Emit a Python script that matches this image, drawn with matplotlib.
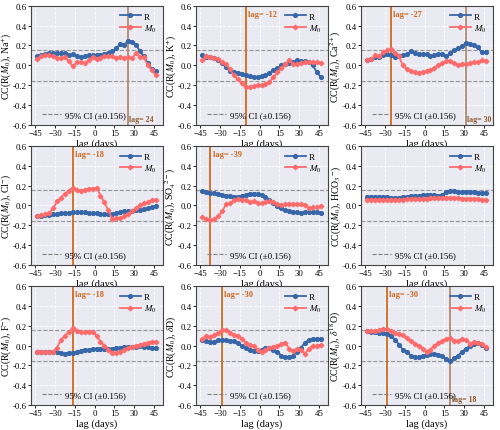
import numpy as np
import matplotlib
matplotlib.use("Agg")
import matplotlib.pyplot as plt
from matplotlib.lines import Line2D

plt.rcParams["font.family"] = ["Liberation Serif", "DejaVu Serif"]
plt.rcParams["mathtext.fontset"] = "stix"

## Data -------------------

lags = np.arange(-45, 46, 3)

ylabels = [r"CC(R($M_0$), Na$^{+}$)", r"CC(R($M_0$), K$^{+}$)", r"CC(R($M_0$), Ca$^{2+}$)",
           r"CC(R($M_0$), Cl$^{-}$)", r"CC(R($M_0$), SO$_4$$^{2-}$)", r"CC(R($M_0$), HCO$_3$$^{-}$)",
           r"CC(R($M_0$), F$^{-}$)", r"CC(R($M_0$), $\delta$D)", r"CC(R($M_0$), $\delta^{18}$O)"]

r_na = [0.09, 0.10, 0.11, 0.12, 0.12, 0.12, 0.12, 0.12, 0.10, 0.11, 0.09, 0.08, 0.09, 0.10, 0.10, 0.10,
        0.10, 0.11, 0.12, 0.14, 0.17, 0.22, 0.21, 0.245, 0.24, 0.21, 0.14, 0.09, 0.02, -0.04, -0.06]
m_na = [0.06, 0.09, 0.10, 0.10, 0.09, 0.07, 0.07, 0.08, 0.04, -0.01, 0.03, 0.03, 0.02, 0.05, 0.08, 0.06,
        0.07, 0.09, 0.09, 0.09, 0.07, 0.08, 0.07, 0.08, 0.07, 0.12, 0.08, 0.08, 0.00, -0.05, -0.10]

r_k = [0.10, 0.08, 0.08, 0.07, 0.05, 0.02, -0.02, -0.06, -0.07, -0.08, -0.09, -0.10, -0.11, -0.12, -0.12, -0.11,
       -0.10, -0.08, -0.05, -0.03, 0.00, 0.01, 0.02, 0.03, 0.05, 0.04, 0.04, 0.03, 0.00, -0.07, -0.12]
m_k = [0.05, 0.09, 0.08, 0.07, 0.06, 0.03, 0.01, -0.04, -0.10, -0.14, -0.18, -0.22, -0.22, -0.21, -0.20, -0.20,
       -0.19, -0.17, -0.12, -0.07, -0.03, 0.01, 0.05, 0.01, 0.01, 0.02, 0.03, 0.03, 0.03, 0.03, 0.02]

r_ca = [0.05, 0.06, 0.08, 0.08, 0.10, 0.11, 0.10, 0.08, 0.09, 0.10, 0.11, 0.14, 0.12, 0.11, 0.11, 0.11,
        0.09, 0.10, 0.11, 0.11, 0.09, 0.12, 0.15, 0.17, 0.19, 0.23, 0.22, 0.20, 0.18, 0.13, 0.13]
m_ca = [0.05, 0.06, 0.10, 0.09, 0.13, 0.15, 0.16, 0.12, 0.09, 0.00, -0.04, -0.06, -0.07, -0.08, -0.07, -0.06,
        -0.05, -0.03, 0.00, 0.02, 0.04, 0.04, 0.02, 0.00, 0.01, 0.01, 0.02, 0.03, 0.03, 0.05, 0.04]

r_cl = [-0.11, -0.11, -0.10, -0.10, -0.09, -0.09, -0.08, -0.08, -0.08, -0.07, -0.07, -0.07, -0.07, -0.08, -0.08, -0.08,
        -0.09, -0.09, -0.09, -0.09, -0.08, -0.07, -0.06, -0.06, -0.06, -0.05, -0.05, -0.04, -0.03, -0.02, -0.01]
m_cl = [-0.11, -0.10, -0.09, -0.08, -0.03, 0.04, 0.08, 0.12, 0.15, 0.18, 0.16, 0.15, 0.16, 0.17, 0.17, 0.18,
        0.10, 0.03, -0.05, -0.14, -0.13, -0.13, -0.11, -0.09, -0.06, -0.03, 0.00, 0.02, 0.03, 0.05, 0.05]

r_so4 = [0.15, 0.14, 0.13, 0.13, 0.12, 0.11, 0.10, 0.10, 0.09, 0.09, 0.10, 0.11, 0.12, 0.12, 0.12, 0.11,
         0.09, 0.06, 0.02, -0.01, -0.03, -0.05, -0.06, -0.07, -0.07, -0.08, -0.07, -0.07, -0.07, -0.07, -0.08]
m_so4 = [-0.12, -0.14, -0.15, -0.14, -0.11, -0.06, 0.01, 0.02, 0.05, 0.07, 0.06, 0.05, 0.03, 0.04, 0.02, 0.02,
         0.03, 0.04, 0.03, 0.01, 0.00, 0.01, 0.01, 0.01, 0.01, 0.01, 0.00, -0.03, -0.02, -0.02, -0.01]

r_hco3 = [0.09, 0.09, 0.09, 0.09, 0.09, 0.09, 0.08, 0.08, 0.08, 0.09, 0.09, 0.10, 0.10, 0.10, 0.11, 0.11,
          0.11, 0.11, 0.10, 0.11, 0.14, 0.15, 0.15, 0.14, 0.14, 0.14, 0.14, 0.14, 0.13, 0.13, 0.13]
m_hco3 = [0.06, 0.06, 0.06, 0.06, 0.06, 0.06, 0.06, 0.06, 0.06, 0.06, 0.07, 0.07, 0.07, 0.07, 0.07, 0.07,
          0.08, 0.08, 0.08, 0.08, 0.08, 0.08, 0.08, 0.08, 0.07, 0.07, 0.07, 0.07, 0.07, 0.06, 0.06]

r_f = [-0.06, -0.06, -0.06, -0.06, -0.06, -0.06, -0.07, -0.08, -0.07, -0.07, -0.06, -0.05, -0.04, -0.04, -0.03, -0.03,
       -0.03, -0.03, -0.03, -0.03, -0.02, -0.02, -0.01, -0.01, -0.01, -0.01, 0.00, -0.01, -0.01, -0.02, -0.02]
m_f = [-0.06, -0.06, -0.06, -0.06, -0.06, -0.02, 0.06, 0.10, 0.14, 0.18, 0.15, 0.14, 0.14, 0.14, 0.14, 0.10,
       0.04, 0.00, -0.04, -0.07, -0.07, -0.06, -0.04, -0.02, -0.01, 0.00, 0.01, 0.02, 0.03, 0.04, 0.04]

r_dd = [0.06, 0.05, 0.04, 0.04, 0.06, 0.06, 0.06, 0.05, 0.05, 0.03, 0.00, -0.02, -0.04, -0.05, -0.05, -0.04,
        -0.02, -0.02, -0.04, -0.06, -0.10, -0.12, -0.12, -0.10, -0.06, -0.02, 0.03, 0.06, 0.07, 0.07, 0.07]
m_dd = [0.07, 0.10, 0.09, 0.11, 0.13, 0.16, 0.16, 0.13, 0.11, 0.10, 0.07, 0.03, 0.01, 0.00, -0.04, -0.06,
        -0.04, -0.02, -0.01, 0.00, 0.02, 0.03, -0.03, -0.05, -0.03, -0.04, -0.08, -0.03, 0.00, 0.00, 0.01]

r_d18o = [0.15, 0.14, 0.14, 0.13, 0.13, 0.12, 0.10, 0.06, 0.01, -0.04, -0.06, -0.10, -0.12, -0.12, -0.10, -0.09,
          -0.08, -0.08, -0.09, -0.10, -0.14, -0.16, -0.13, -0.10, -0.06, -0.03, 0.00, 0.02, 0.03, 0.01, -0.02]
m_d18o = [0.15, 0.15, 0.15, 0.16, 0.17, 0.17, 0.15, 0.13, 0.12, 0.11, 0.08, 0.05, 0.02, 0.00, -0.03, -0.06,
          -0.04, 0.00, 0.03, 0.05, 0.07, 0.08, 0.05, 0.05, 0.07, 0.06, 0.02, 0.04, 0.03, 0.02, -0.01]

r_series = [r_na, r_k, r_ca, r_cl, r_so4, r_hco3, r_f, r_dd, r_d18o]
m_series = [m_na, m_k, m_ca, m_cl, m_so4, m_hco3, m_f, m_dd, m_d18o]

# significant lags (None = not significant)
r_best = [24, None, 30, None, None, None, None, None, 18]
m_best = [None, -12, -27, -18, -39, None, -18, -30, -30]

ci = 0.156

## Plotting -------------------

blue = "#3767a8"
red = "#ff6b6b"
c_m = "#d2691e"
c_r = "#b08a70"
shift = 1.5  # lags are drawn shifted half a step

fig, axes = plt.subplots(3, 3, figsize=(5.0, 4.31), dpi=100)
fig.subplots_adjust(left=0.062, right=0.986, top=0.984, bottom=0.058, wspace=0.25, hspace=0.18)

yt = np.arange(-0.6, 0.61, 0.2)

for i, ax in enumerate(axes.flat):
    ax.set_facecolor("#eaeaf2")
    x = lags + shift
    ax.plot(x, r_series[i], "-o", color=blue, lw=1.3, ms=2.7, label="R", zorder=3)
    ax.plot(x, m_series[i], "-D", color=red, lw=1.3, ms=2.3, label=r"$M_0$", zorder=3)
    ax.axhline(ci, color="gray", ls="--", lw=0.8, alpha=0.8)
    ax.axhline(-ci, color="gray", ls="--", lw=0.8, alpha=0.8)

    if m_best[i] is not None:
        ax.axvline(m_best[i] + shift, color=c_m, lw=1.3, zorder=2)
        ax.text(m_best[i] + shift + 1.8, 0.52, "lag= %d" % m_best[i], color=c_m,
                fontsize=6, fontweight="bold", va="center")
    if r_best[i] is not None:
        ax.axvline(r_best[i] + shift, color=c_r, lw=1.3, zorder=2)
        ax.text(r_best[i] + shift + 1.0, -0.54, "lag= %d" % r_best[i], color="#8b5a2b",
                fontsize=5.7, fontweight="bold", va="center")

    ax.set_xlim(-48.3, 52)
    ax.set_ylim(-0.6, 0.6)
    ax.set_xticks([-45, -30, -15, 0, 15, 30, 45])
    ax.set_yticks(yt)
    ax.set_yticklabels(["%.1f" % v if abs(v) > 1e-9 else "0.0" for v in yt])
    ax.tick_params(labelsize=6.3, length=2, width=0.6, pad=1.2)
    ax.grid(True, color="white", ls="--", lw=0.6)
    ax.set_axisbelow(True)
    for s in ax.spines.values():
        s.set_color("#444444")
        s.set_linewidth(0.8)
        s.set_zorder(5)
    ax.set_xlabel("lag (days)", fontsize=7.5, labelpad=1)
    ax.set_ylabel(ylabels[i], fontsize=7)
    ax.yaxis.set_label_coords(-0.14, 0.5)

    leg = ax.legend(loc="upper right", fontsize=6.5, frameon=False, handlelength=2.4,
                    borderpad=0.2, labelspacing=0.2, handletextpad=0.3)
    ax.add_artist(leg)
    ci_handle = Line2D([], [], color="gray", ls="--", lw=0.8)
    ax.legend([ci_handle], ["95% CI (±0.156)"], loc="lower center", bbox_to_anchor=(0.4, -0.02),
              fontsize=6.5, frameon=False, handlelength=2.2, handletextpad=0.4)

plt.savefig("out.png", dpi=100)
